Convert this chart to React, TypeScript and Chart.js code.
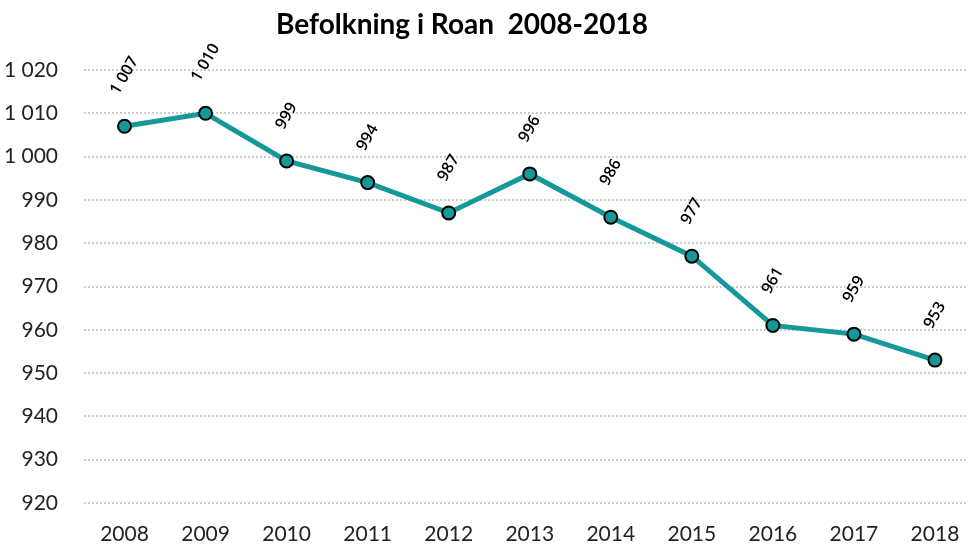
import React, { useEffect, useRef } from "react";
import { Chart, registerables } from "chart.js";

Chart.register(...registerables);

const titleText = "Befolkning i Roan  2008-2018";
const years = ["2008", "2009", "2010", "2011", "2012", "2013", "2014", "2015", "2016", "2017", "2018"];
const population = [1007, 1010, 999, 994, 987, 996, 986, 977, 961, 959, 953];
const yMin = 920;
const yMax = 1020;
const yStep = 10;

const FONT = "Lato, 'Open Sans', sans-serif";
const LABEL_FONT = "'Open Sans', Lato, sans-serif";
const TEAL = "#15989a";

function fmt(v: number): string {
  const s = String(Math.round(v));
  return s.replace(/\B(?=(\d{3})+(?!\d))/g, " ");
}

export default function App() {
  const ref = useRef<HTMLCanvasElement | null>(null);

  useEffect(() => {
    if (!ref.current) return;
    const labelPlugin = {
      id: "customDraw",
      afterDatasetsDraw(chart: any) {
        const ctx = chart.ctx;
        const meta = chart.getDatasetMeta(0);
        ctx.save();
        ctx.font = `600 16px ${LABEL_FONT}`;
        ctx.fillStyle = "#000";
        ctx.textAlign = "center";
        ctx.textBaseline = "middle";
        const ang = (60 * Math.PI) / 180;
        const h = 12;
        meta.data.forEach((pt: any, i: number) => {
          const txt = fmt(population[i]);
          const L = ctx.measureText(txt).width;
          const bh = L * Math.sin(ang) + h * Math.cos(ang);
          const cx = pt.x;
          const cy = pt.y - 30 - bh / 2;
          ctx.save();
          ctx.translate(cx, cy);
          ctx.rotate(-ang);
          ctx.fillText(txt, 0, 0);
          ctx.restore();
        });
        ctx.restore();
      },
      afterDraw(chart: any) {
        const ctx = chart.ctx;
        ctx.save();
        ctx.font = `bold 28px ${FONT}`;
        ctx.fillStyle = "#000";
        ctx.textAlign = "center";
        ctx.textBaseline = "middle";
        ctx.fillText(titleText, 462, 25);
        ctx.restore();
      },
    };

    const chart = new Chart(ref.current, {
      type: "line",
      data: {
        labels: years,
        datasets: [
          {
            data: population,
            borderColor: TEAL,
            backgroundColor: TEAL,
            borderWidth: 5,
            pointRadius: 6.5,
            pointBackgroundColor: TEAL,
            pointBorderColor: "#000",
            pointBorderWidth: 2,
            tension: 0,
            fill: false,
          },
        ],
      },
      options: {
        animation: false,
        responsive: true,
        maintainAspectRatio: false,
        layout: { padding: { top: 70, left: 0, right: 0, bottom: 0 } },
        plugins: {
          legend: { display: false },
          title: { display: false },
          tooltip: { enabled: false },
        },
        scales: {
          x: {
            offset: true,
            grid: { display: false, drawTicks: false },
            border: { display: false },
            ticks: {
              color: "#222",
              font: { family: FONT, size: 21 },
              padding: 19,
              maxRotation: 0,
            },
            afterFit(scale: any) {
              scale.height = 45;
            },
          },
          y: {
            min: yMin,
            max: yMax,
            grid: {
              color: "#cccccc",
              lineWidth: 2,
              drawTicks: false,
            },
            border: { display: false, dash: [2, 2] },
            ticks: {
              stepSize: yStep,
              color: "#222",
              font: { family: FONT, size: 21 },
              padding: 26,
              callback: (v: any) => fmt(Number(v)),
            },
            afterFit(scale: any) {
              scale.width = 84;
            },
          },
        },
      },
      plugins: [labelPlugin],
    });
    return () => chart.destroy();
  }, []);

  return (
    <div
      style={{
        position: "fixed",
        left: 0,
        top: 0,
        width: 968,
        height: 548,
        overflow: "hidden",
        background: "#fff",
      }}
    >
      <div style={{ position: "relative", width: 984, height: 548 }}>
        <canvas ref={ref} />
      </div>
    </div>
  );
}
